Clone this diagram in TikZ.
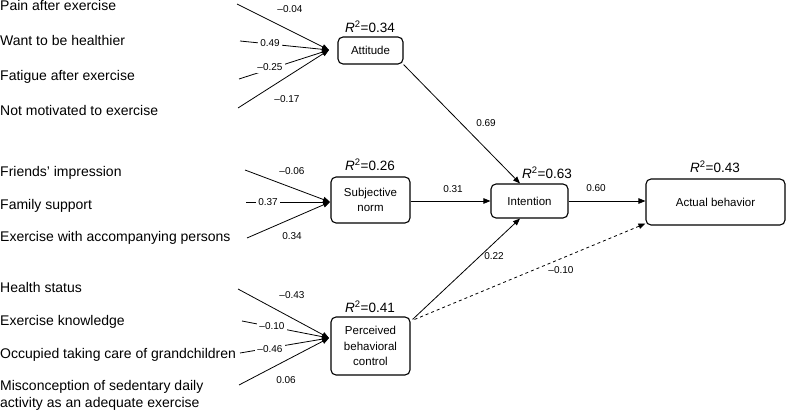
\documentclass[tikz,border=0pt]{standalone}
\usepackage{fontspec}
\setmainfont{Liberation Sans}
\usetikzlibrary{arrows.meta}
\begin{document}
\begin{tikzpicture}[x=1pt,y=-1pt,
  itemtext/.style={anchor=base west,inner sep=0pt,font=\fontsize{14}{17}\selectfont},
  wt/.style={inner sep=1pt,font=\fontsize{10}{12}\selectfont},
  wtf/.style={wt,fill=white,inner sep=2pt},
  rsq/.style={inner sep=0pt,font=\fontsize{13.5}{16}\selectfont},
  box/.style={draw,line width=1.1pt,rounded corners=5pt,inner sep=0pt,align=center,font=\fontsize{11.5}{15.5}\selectfont},
  conn/.style={line width=0.8pt,-{Triangle[length=7pt,width=5.5pt]}},
]
\useasboundingbox (0,0) rectangle (786,411);
% boxes
\node[box,minimum width=65pt,minimum height=27pt] (att) at (370.5,50.5) {Attitude};
\node[box,minimum width=79pt,minimum height=46pt] (sn) at (370.5,200) {Subjective\\norm};
\node[box,minimum width=79pt,minimum height=58pt] (pbc) at (370.5,346) {Perceived\\behavioral\\control};
\node[box,minimum width=77pt,minimum height=34pt] (int) at (529.5,201) {Intention};
\node[box,minimum width=139pt,minimum height=46pt] (act) at (715.5,202) {Actual behavior};
% R squared
\node[rsq] (r1) at (370,27) {\textit{R}\textsuperscript{2}=0.34};
\node[rsq] (r2) at (370,165) {\textit{R}\textsuperscript{2}=0.26};
\node[rsq] (r3) at (370,307) {\textit{R}\textsuperscript{2}=0.41};
\node[rsq] (r4) at (547,173) {\textit{R}\textsuperscript{2}=0.63};
\node[rsq] (r5) at (715,167) {\textit{R}\textsuperscript{2}=0.43};
% item texts
\node[itemtext] (t1) at (0,10.5) {Pain after exercise};
\node[itemtext] (t2) at (0,45.5) {Want to be healthier};
\node[itemtext] (t3) at (0,80.5) {Fatigue after exercise};
\node[itemtext] (t4) at (0,115.5) {Not motivated to exercise};
\node[itemtext] (t5) at (0,177) {Friends’ impression};
\node[itemtext] (t6) at (0,209.5) {Family support};
\node[itemtext] (t7) at (0,242) {Exercise with accompanying persons};
\node[itemtext] (t8) at (0,293) {Health status};
\node[itemtext] (t9) at (0,325.5) {Exercise knowledge};
\node[itemtext] (t10) at (0,358) {Occupied taking care of grandchildren};
\node[itemtext] (t11) at (0,390) {Misconception of sedentary daily};
\node[itemtext] (t11b) at (0,407) {activity as an adequate exercise};
% line start points
\coordinate (s1) at (237,4);
\coordinate (s2) at (240,41);
\coordinate (s3) at (239,79);
\coordinate (s4) at (238,108);
\coordinate (s5) at (245,170);
\coordinate (s6) at (246,202);
\coordinate (s7) at (247,238);
\coordinate (s8) at (238,289);
\coordinate (s9) at (242,321);
\coordinate (s10) at (240,353);
\coordinate (s11) at (239,385);
% convergence points
\coordinate (ea) at (329,50);
\coordinate (es) at (330,202);
\coordinate (ep) at (329,338);
% indicator lines
\foreach \s in {s1,s2,s3,s4} \draw[conn] (\s) -- (ea);
\foreach \s in {s5,s6,s7} \draw[conn] (\s) -- (es);
\foreach \s in {s8,s9,s10,s11} \draw[conn] (\s) -- (ep);
% weights
\node[wt] (w1) at (290,9) {\textendash0.04};
\node[wtf] (w2) at (270,43.5) {0.49};
\node[wtf] (w3) at (270,67) {\textendash0.25};
\node[wt] (w4) at (287,99) {\textendash0.17};
\node[wt] (w5) at (292,171) {\textendash0.06};
\node[wtf] (w6) at (268,202.5) {0.37};
\node[wt] (w7) at (292,236) {0.34};
\node[wt] (w8) at (292,295) {\textendash0.43};
\node[wtf] (w9) at (272,326) {\textendash0.10};
\node[wtf] (w10) at (270,349) {\textendash0.46};
\node[wt] (w11) at (286,380) {0.06};
% structural paths
\draw[conn] (att.south east) -- ([xshift=-9.5pt]int.north);
\draw[conn] (sn.east |- int.west) -- (int.west);
\draw[conn] ([xshift=2pt,yshift=-3pt]pbc.north east) -- ([xshift=-9.5pt]int.south);
\draw[conn] (int.east) -- (int.east -| act.west);
\draw[conn,dashed] ([xshift=4pt,yshift=-3pt]pbc.north east) -- ([yshift=2pt]act.south west);
\node[wt] (p1) at (486,123) {0.69};
\node[wt] (p2) at (453,189) {0.31};
\node[wt] (p3) at (494,256) {0.22};
\node[wt] (p4) at (596,188) {0.60};
\node[wt] (p5) at (561,270) {\textendash0.10};
\end{tikzpicture}
\end{document}
